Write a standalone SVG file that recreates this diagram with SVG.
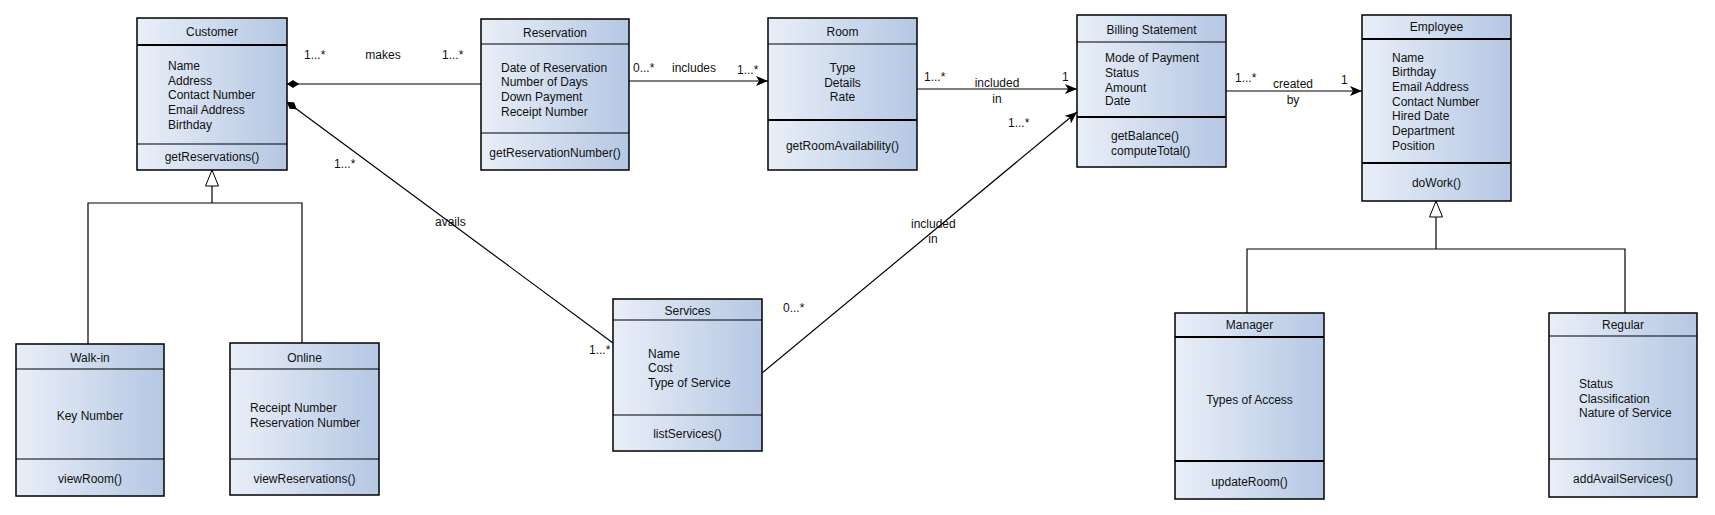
<svg xmlns="http://www.w3.org/2000/svg" width="1715" height="515" viewBox="0 0 1715 515">
<defs>
<linearGradient id="fill" x1="0" y1="0" x2="1" y2="0">
<stop offset="0" stop-color="#e9eff8"/>
<stop offset="1" stop-color="#b5c7e3"/>
</linearGradient>
<marker id="arrow" viewBox="0 0 12 10" refX="12" refY="5" markerWidth="12" markerHeight="10" markerUnits="userSpaceOnUse" orient="auto">
<path d="M0,0 L12,5 L0,10 L3,5 z" fill="#000"/>
</marker>
<marker id="diamond" viewBox="0 0 12 8" refX="0" refY="4" markerWidth="12" markerHeight="8" markerUnits="userSpaceOnUse" orient="auto">
<path d="M0,4 L6,0 L12,4 L6,8 z" fill="#000"/>
</marker>
<marker id="gen" viewBox="0 0 17 14" refX="16.5" refY="7" markerWidth="17" markerHeight="14" markerUnits="userSpaceOnUse" orient="auto">
<path d="M0.5,0.5 L16.5,7 L0.5,13.5 z" fill="#fff" stroke="#000" stroke-width="1"/>
</marker>
</defs>
<style>
text{font-family:"Liberation Sans",Arial,sans-serif;font-size:12px;fill:#111}
.c{text-anchor:middle}
.box{fill:url(#fill);stroke:#000;stroke-width:1.5}
.thin{stroke:#000;stroke-width:1.2}
.thick{stroke:#000;stroke-width:2.2}
.conn{fill:none;stroke:#000;stroke-width:1.2}
</style>
<rect width="1715" height="515" fill="#fff"/>

<g id="connectors">
<path class="conn" d="M287,84 H481" marker-start="url(#diamond)"/>
<path class="conn" d="M287,102 L613,343" marker-start="url(#diamond)"/>
<path class="conn" d="M629,81 H768" marker-end="url(#arrow)"/>
<path class="conn" d="M917,89 H1077" marker-end="url(#arrow)"/>
<path class="conn" d="M762,373 L1077,112" marker-end="url(#arrow)"/>
<path class="conn" d="M1226,91 H1362" marker-end="url(#arrow)"/>
<path class="conn" d="M88,344 V203 H302 V343"/>
<path class="conn" d="M212,203 V170" marker-end="url(#gen)"/>
<path class="conn" d="M1247,313 V249 H1625 V313"/>
<path class="conn" d="M1436,249 V201" marker-end="url(#gen)"/>
<text x="304" y="59">1...*</text>
<text x="383" y="59" class="c">makes</text>
<text x="442" y="59">1...*</text>
<text x="633" y="72">0...*</text>
<text x="694" y="72" class="c">includes</text>
<text x="737" y="74">1...*</text>
<text x="924" y="81">1...*</text>
<text x="997" y="87" class="c">included</text>
<text x="997" y="103" class="c">in</text>
<text x="1062" y="81">1</text>
<text x="1008" y="127">1...*</text>
<text x="1235" y="82">1...*</text>
<text x="1293" y="88" class="c">created</text>
<text x="1293" y="104" class="c">by</text>
<text x="1341" y="84">1</text>
<text x="334" y="168">1...*</text>
<text x="435" y="226">avails</text>
<text x="911" y="228">included</text>
<text x="933" y="243" class="c">in</text>
<text x="783" y="312">0...*</text>
<text x="589" y="354">1...*</text>
</g>

<g id="customer">
<rect class="box" x="137" y="18" width="150" height="152"/>
<line class="thick" x1="137" y1="45" x2="287" y2="45"/>
<line class="thin" x1="137" y1="144" x2="287" y2="144"/>
<text x="212" y="36" class="c">Customer</text>
<text x="168" y="70">Name</text>
<text x="168" y="85">Address</text>
<text x="168" y="99">Contact Number</text>
<text x="168" y="114">Email Address</text>
<text x="168" y="129">Birthday</text>
<text x="212" y="161" class="c">getReservations()</text>
</g>

<g id="reservation">
<rect class="box" x="481" y="19" width="148" height="151"/>
<line class="thin" x1="481" y1="44" x2="629" y2="44"/>
<line class="thin" x1="481" y1="133" x2="629" y2="133"/>
<text x="555" y="37" class="c">Reservation</text>
<text x="501" y="72">Date of Reservation</text>
<text x="501" y="86">Number of Days</text>
<text x="501" y="101">Down Payment</text>
<text x="501" y="116">Receipt Number</text>
<text x="555" y="157" class="c">getReservationNumber()</text>
</g>

<g id="room">
<rect class="box" x="768" y="18" width="149" height="152"/>
<line class="thin" x1="768" y1="44" x2="917" y2="44"/>
<line class="thick" x1="768" y1="120" x2="917" y2="120"/>
<text x="842.5" y="36" class="c">Room</text>
<text x="842.5" y="72" class="c">Type</text>
<text x="842.5" y="87" class="c">Details</text>
<text x="842.5" y="101" class="c">Rate</text>
<text x="842.5" y="150" class="c">getRoomAvailability()</text>
</g>

<g id="billing">
<rect class="box" x="1077" y="15" width="149" height="152"/>
<line class="thin" x1="1077" y1="42" x2="1226" y2="42"/>
<line class="thick" x1="1077" y1="117" x2="1226" y2="117"/>
<text x="1151.5" y="34" class="c">Billing Statement</text>
<text x="1105" y="62">Mode of Payment</text>
<text x="1105" y="77">Status</text>
<text x="1105" y="92">Amount</text>
<text x="1105" y="105">Date</text>
<text x="1111" y="140">getBalance()</text>
<text x="1111" y="155">computeTotal()</text>
</g>

<g id="employee">
<rect class="box" x="1362" y="15" width="149" height="186"/>
<line class="thick" x1="1362" y1="39" x2="1511" y2="39"/>
<line class="thick" x1="1362" y1="163" x2="1511" y2="163"/>
<text x="1436.5" y="31" class="c">Employee</text>
<text x="1392" y="62">Name</text>
<text x="1392" y="76">Birthday</text>
<text x="1392" y="91">Email Address</text>
<text x="1392" y="106">Contact Number</text>
<text x="1392" y="120">Hired Date</text>
<text x="1392" y="135">Department</text>
<text x="1392" y="150">Position</text>
<text x="1436.5" y="187" class="c">doWork()</text>
</g>

<g id="walkin">
<rect class="box" x="16" y="344" width="148" height="152"/>
<line class="thin" x1="16" y1="369" x2="164" y2="369"/>
<line class="thin" x1="16" y1="459" x2="164" y2="459"/>
<text x="90" y="362" class="c">Walk-in</text>
<text x="90" y="420" class="c">Key Number</text>
<text x="90" y="483" class="c">viewRoom()</text>
</g>

<g id="online">
<rect class="box" x="230" y="343" width="149" height="152"/>
<line class="thin" x1="230" y1="369" x2="379" y2="369"/>
<line class="thin" x1="230" y1="459" x2="379" y2="459"/>
<text x="304.5" y="362" class="c">Online</text>
<text x="250" y="412">Receipt Number</text>
<text x="250" y="427">Reservation Number</text>
<text x="304.5" y="483" class="c">viewReservations()</text>
</g>

<g id="services">
<rect class="box" x="613" y="299" width="149" height="152"/>
<line class="thin" x1="613" y1="320" x2="762" y2="320"/>
<line class="thin" x1="613" y1="415" x2="762" y2="415"/>
<text x="687.5" y="315" class="c">Services</text>
<text x="648" y="358">Name</text>
<text x="648" y="372">Cost</text>
<text x="648" y="387">Type of Service</text>
<text x="687.5" y="438" class="c">listServices()</text>
</g>

<g id="manager">
<rect class="box" x="1175" y="313" width="149" height="186"/>
<line class="thick" x1="1175" y1="337" x2="1324" y2="337"/>
<line class="thick" x1="1175" y1="461" x2="1324" y2="461"/>
<text x="1249.5" y="329" class="c">Manager</text>
<text x="1249.5" y="404" class="c">Types of Access</text>
<text x="1249.5" y="486" class="c">updateRoom()</text>
</g>

<g id="regular">
<rect class="box" x="1549" y="313" width="148" height="184"/>
<line class="thin" x1="1549" y1="336" x2="1697" y2="336"/>
<line class="thin" x1="1549" y1="459" x2="1697" y2="459"/>
<text x="1623" y="329" class="c">Regular</text>
<text x="1579" y="388">Status</text>
<text x="1579" y="403">Classification</text>
<text x="1579" y="417">Nature of Service</text>
<text x="1623" y="483" class="c">addAvailServices()</text>
</g>
</svg>
